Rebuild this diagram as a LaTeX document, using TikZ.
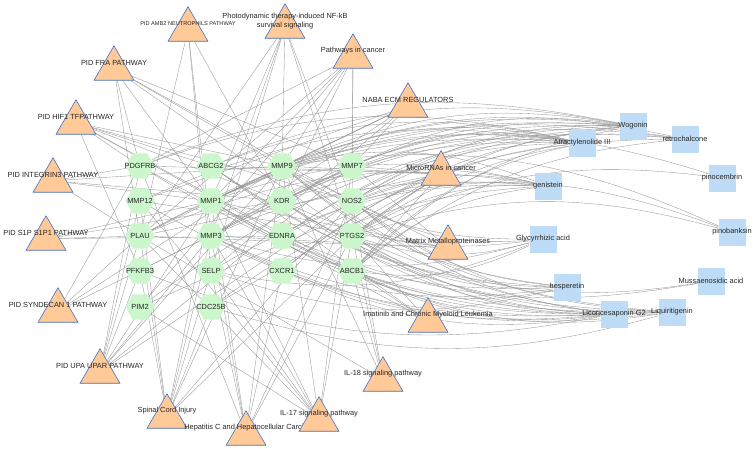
\documentclass[tikz,border=0pt]{standalone}
\usepackage{fontspec}
\setmainfont{Liberation Sans}
\usetikzlibrary{shapes.geometric}
\pgfdeclarelayer{fond}
\pgfsetlayers{fond,main}
\definecolor{voie}{RGB}{255,201,152}
\definecolor{bordvoie}{RGB}{68,114,196}
\definecolor{cible}{RGB}{204,246,204}
\definecolor{compo}{RGB}{190,220,246}
\definecolor{gris}{RGB}{150,150,150}

\begin{document}
\begin{tikzpicture}[x=1pt,y=-1pt,
	tri/.style={regular polygon, regular polygon sides=3, minimum size=46pt, inner sep=0pt,
		fill=voie, draw=bordvoie, line width=0.6pt, yshift=-5.75pt},
	hex/.style={regular polygon, regular polygon sides=6, minimum size=29pt, inner sep=0pt, fill=cible},
	carre/.style={rectangle, minimum size=27pt, inner sep=0pt, fill=compo},
	etq/.style={font=\fontsize{7.4}{9}\selectfont, text=black!85, inner sep=0pt},
	etqt/.style={etq, yshift=5.75pt},
	lien/.style={draw=gris, line width=0.35pt}]
		% cadre de l'image
		\useasboundingbox (0,0) rectangle (753,448);

		% voies (triangles)
		\node[tri, label={[etqt, font=\fontsize{5.6}{6}\selectfont]center:PID AMB2 NEUTROPHILS PATHWAY}] (amb) at (188,24) {};
		\node[tri, label={[etqt, align=center]center:{Photodynamic therapy-induced NF-kB\\survival signaling}}] (pdt) at (285,21) {};
		\node[tri, label={[etqt]center:Pathways in cancer}] (cancer) at (353,51) {};
		\node[tri, label={[etqt]center:PID FRA PATHWAY}] (fra) at (114,63) {};
		\node[tri, label={[etqt]center:NABA ECM REGULATORS}] (naba) at (408,100) {};
		\node[tri, label={[etqt]center:PID HIF1 TFPATHWAY}] (hif) at (76,117) {};
		\node[tri, label={[etqt]center:MicroRNAs in cancer}] (mir) at (441,168) {};
		\node[tri, label={[etqt]center:PID INTEGRIN3 PATHWAY}] (integ) at (53,175) {};
		\node[tri, label={[etqt]center:PID S1P S1P1 PATHWAY}] (s1p) at (46,233) {};
		\node[tri, label={[etqt]center:Matrix Metalloproteinases}] (mmp) at (448,242) {};
		\node[tri, label={[etqt]center:PID SYNDECAN 1 PATHWAY}] (synd) at (58,305) {};
		\node[tri, label={[etqt]center:Imatinib and Chronic Myeloid Leukemia}] (cml) at (428,315) {};
		\node[tri, label={[etqt]center:PID UPA UPAR PATHWAY}] (upa) at (100,366) {};
		\node[tri, label={[etqt]center:IL-18 signaling pathway}] (il18) at (383,374) {};
		\node[tri, label={[etqt]center:Spinal Cord Injury}] (sci) at (167,411) {};
		\node[tri, label={[etqt]center:Hepatitis C and Hepatocellular Carcin}] (hcc) at (246,428) {};
		\node[tri, label={[etqt]center:IL-17 signaling pathway}] (il17) at (319,414) {};

		% cibles (hexagones)
		\foreach \n/\x/\y in {PDGFRB/140/166, ABCG2/211/166, MMP9/282/166, MMP7/352/166,
			MMP12/140/201, MMP1/211/201, KDR/282/201, NOS2/352/201,
			PLAU/140/236, MMP3/211/236, EDNRA/282/236, PTGS2/352/236,
			PFKFB3/140/271, SELP/211/271, CXCR1/282/271, ABCB1/352/271,
			PIM2/140/307, CDC25B/211/307}{%
			\node[hex, label={[etq]center:\n}] (\n) at (\x,\y) {};
		}

		% composes (carres)
		\foreach \nom/\txt/\x/\y in {wog/Wogonin/633/126, retro/retrochalcone/685/139,
			atr/Atractylenolide III/582/143, gen/genistein/548/186,
			pinoc/pinocembrin/722/178, pinob/pinobanksin/732/232,
			gly/Glycyrrhizic acid/543/239, muss/Mussaenosidic acid/711/281,
			hesp/hesperetin/567/287, lic/Licoricesaponin G2/614/314,
			liq/Liquiritigenin/672/312}{%
			\node[carre, label={[etq]center:\txt}] (\nom) at (\x,\y) {};
		}

		\begin{pgfonlayer}{fond}
		% liens voie - cible
		\foreach \v/\c in {amb/PLAU, amb/MMP3, amb/KDR, amb/SELP,
			pdt/MMP9, pdt/MMP1, pdt/PLAU, pdt/MMP3, pdt/PTGS2, pdt/NOS2, pdt/SELP,
			cancer/MMP7, cancer/PDGFRB, cancer/MMP1, cancer/MMP9, cancer/PTGS2, cancer/KDR, cancer/PIM2, cancer/PLAU,
			fra/PDGFRB, fra/MMP1, fra/MMP9, fra/PLAU, fra/NOS2, fra/PTGS2, fra/MMP7,
			hif/KDR, hif/NOS2, hif/ABCB1, hif/ABCG2, hif/PFKFB3, hif/EDNRA, hif/MMP9, hif/PDGFRB,
			integ/PDGFRB, integ/KDR, integ/PLAU, integ/MMP9, integ/MMP1,
			s1p/PLAU, s1p/EDNRA, s1p/KDR, s1p/MMP1,
			synd/PDGFRB, synd/MMP9, synd/MMP7, synd/PLAU,
			upa/PLAU, upa/MMP3, upa/MMP1, upa/MMP9, upa/MMP12, upa/PDGFRB, upa/PFKFB3, upa/MMP7, upa/NOS2,
			sci/MMP9, sci/MMP12, sci/PLAU, sci/SELP, sci/PTGS2, sci/NOS2, sci/MMP1, sci/MMP3, sci/PFKFB3, sci/CDC25B,
			hcc/MMP9, hcc/MMP1, hcc/PTGS2, hcc/NOS2, hcc/PDGFRB, hcc/CXCR1, hcc/MMP3, hcc/SELP,
			il17/MMP9, il17/MMP1, il17/MMP3, il17/PTGS2, il17/MMP7, il17/PIM2, il17/PLAU, il17/SELP, il17/MMP12,
			il18/PTGS2, il18/ABCB1, il18/NOS2, il18/MMP9, il18/PLAU,
			cml/ABCB1, cml/ABCG2, cml/PDGFRB, cml/PTGS2,
			mmp/MMP1, mmp/MMP3, mmp/MMP7, mmp/MMP9, mmp/MMP12, mmp/PLAU,
			mir/MMP9, mir/PTGS2, mir/ABCB1, mir/ABCG2, mir/PDGFRB, mir/PLAU, mir/PIM2, mir/CDC25B, mir/NOS2, mir/MMP7,
			naba/MMP1, naba/MMP3, naba/MMP7, naba/MMP9, naba/MMP12, naba/PLAU, naba/SELP}
			\draw[lien] (\v) -- (\c);

		% liens compose - cible (haut : courbes vers le haut)
		\foreach \m/\c in {wog/MMP9, wog/KDR, wog/PTGS2, wog/NOS2, wog/MMP1, wog/PDGFRB, wog/ABCG2, wog/ABCB1,
			wog/MMP7, wog/PLAU, wog/MMP3, wog/CXCR1, wog/PIM2, wog/EDNRA,
			retro/MMP9, retro/MMP1, retro/PTGS2, retro/NOS2, retro/KDR, retro/MMP3, retro/ABCB1,
			atr/MMP9, atr/MMP1, atr/MMP3, atr/PTGS2, atr/NOS2, atr/KDR, atr/PDGFRB, atr/ABCG2, atr/ABCB1,
			atr/MMP12, atr/MMP7, atr/PLAU, atr/EDNRA, atr/CXCR1,
			gen/PTGS2, gen/NOS2, gen/MMP9, gen/KDR, gen/MMP1, gen/ABCB1, gen/PLAU, gen/PFKFB3, gen/SELP,
			gen/CDC25B, gen/EDNRA,
			pinoc/PTGS2, pinoc/MMP9, pinob/PTGS2, pinob/MMP9, pinob/NOS2}
			\draw[lien] (\m) to[bend right=16] (\c);

		% liens compose - cible (bas : courbes vers le bas)
		\foreach \m/\c in {gly/PTGS2, gly/MMP9, gly/MMP3, gly/NOS2, gly/KDR, gly/ABCB1, gly/SELP,
			muss/PTGS2, muss/EDNRA,
			hesp/PTGS2, hesp/NOS2, hesp/MMP9, hesp/MMP1, hesp/MMP3, hesp/KDR, hesp/ABCG2, hesp/ABCB1, hesp/SELP,
			lic/PTGS2, lic/MMP9, lic/MMP1, lic/MMP3, lic/NOS2, lic/KDR, lic/ABCB1, lic/MMP12, lic/EDNRA,
			lic/CXCR1, lic/PFKFB3,
			liq/PTGS2, liq/MMP9, liq/NOS2, liq/MMP1, liq/MMP3, liq/KDR, liq/ABCB1, liq/ABCG2, liq/CDC25B, liq/PDGFRB}
			\draw[lien] (\m) to[bend left=16] (\c);
		\end{pgfonlayer}
	\end{tikzpicture}
\end{document}
